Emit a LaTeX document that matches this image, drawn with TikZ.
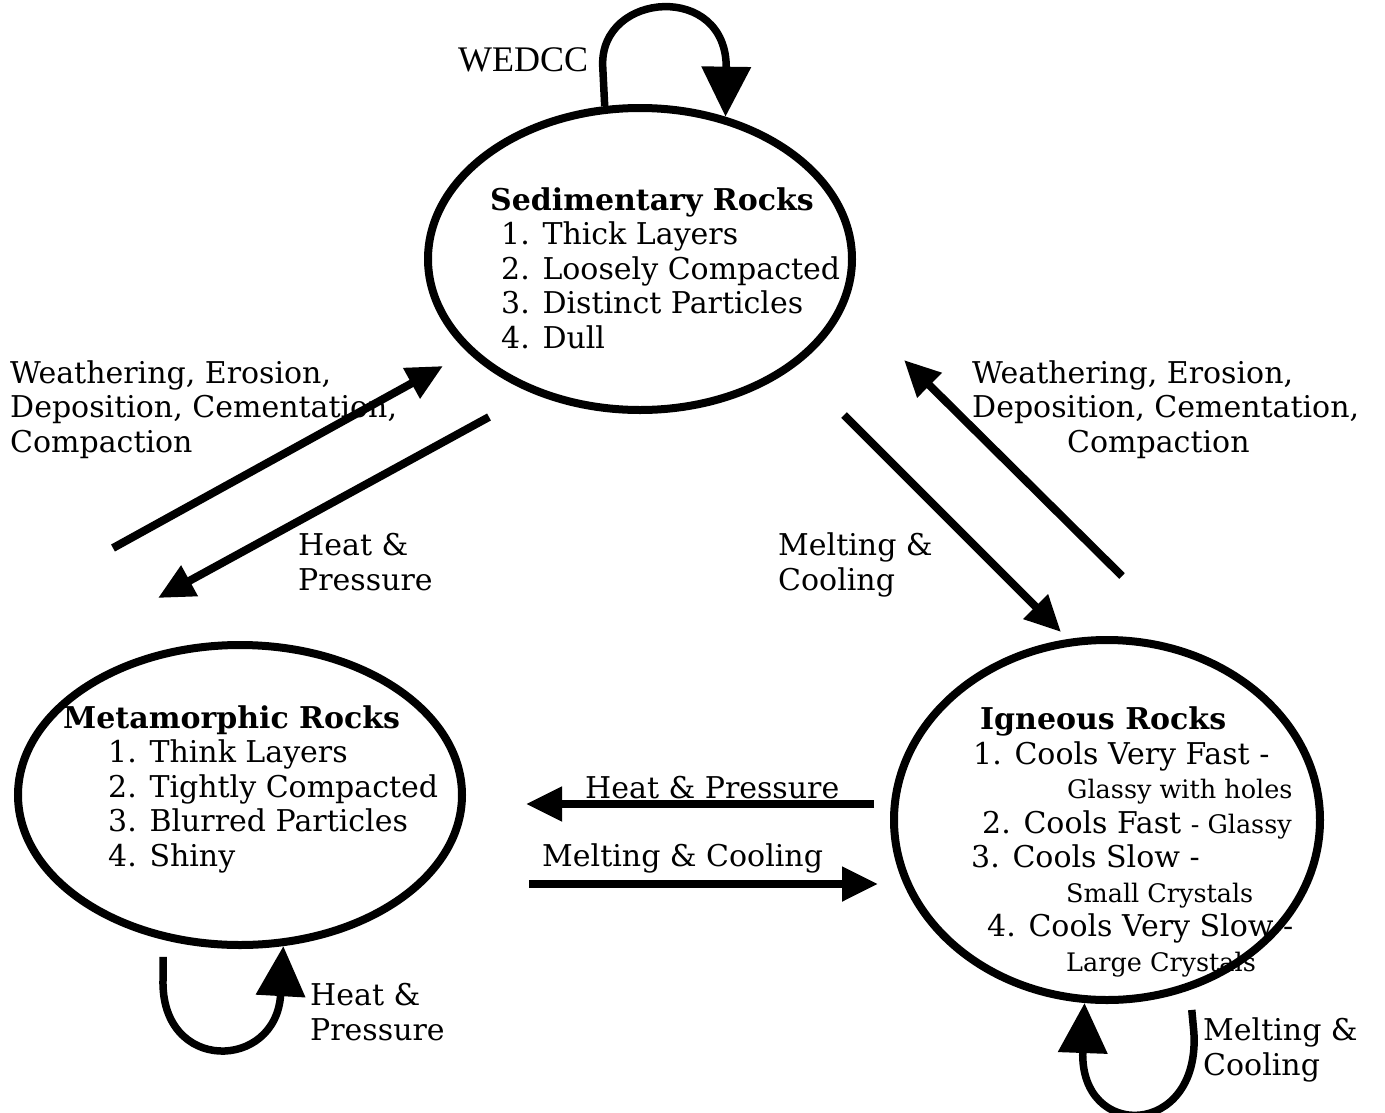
\documentclass[tikz,border=0pt]{standalone}
\usepackage{fontspec}
\setmainfont{DejaVu Serif}
\newfontfamily\timesfont{Liberation Serif}
\usetikzlibrary{shapes.geometric, arrows.meta}

\tikzset{
  rock/.style={ellipse, draw, line width=8pt, inner sep=0pt},
  flow/.style={line width=8pt, -{Triangle[length=36pt,width=33pt]}},
  selfflow/.style={line width=7.5pt, line join=round, -{Triangle[length=50pt,width=48pt]}},
  txt/.style={anchor=base west, inner sep=0pt, align=left, font=\fontsize{30}{34.5}\selectfont},
}
\newcommand{\smtxt}[1]{{\fontsize{25.5}{34.5}\selectfont #1}}

\begin{document}
\begin{tikzpicture}[x=1pt, y=-1pt]
\useasboundingbox (0,0) rectangle (1385,1112);

% the three rocks
\node[rock, minimum width=424pt, minimum height=302pt] (sed) at (640,259) {};
\node[rock, minimum width=444pt, minimum height=300pt] (met) at (240,795) {};
\node[rock, minimum width=426pt, minimum height=360pt] (ign) at (1107,820) {};

% (base of a multi-line node = its last line)
\node[txt] (sedtxt) at (490,348) {\textbf{Sedimentary Rocks}\\
  \hspace*{11pt}1. Thick Layers\\
  \hspace*{11pt}2. Loosely Compacted\\
  \hspace*{11pt}3. Distinct Particles\\
  \hspace*{11pt}4. Dull};
\node[txt] (mettxt) at (63,866) {\textbf{Metamorphic Rocks}\\
  \hspace*{45pt}1. Think Layers\\
  \hspace*{45pt}2. Tightly Compacted\\
  \hspace*{45pt}3. Blurred Particles\\
  \hspace*{45pt}4. Shiny};
\node[txt] (igntxt) at (971,971) {\hspace*{9pt}\textbf{Igneous Rocks}\\
  \hspace*{2pt}1. Cools Very Fast -\\
  \hspace*{96pt}\smtxt{Glassy with holes}\\
  \hspace*{11pt}2. Cools Fast \smtxt{- Glassy}\\
  3. Cools Slow -\\
  \hspace*{95pt}\smtxt{Small Crystals}\\
  \hspace*{16pt}4. Cools Very Slow -\\
  \hspace*{95pt}\smtxt{Large Crystals}};

% process labels
\node[txt] (wecl) at (10,452) {Weathering, Erosion,\\ Deposition, Cementation,\\ Compaction};
\node[txt] (wecr) at (972,452) {Weathering, Erosion,\\ Deposition, Cementation,\\ \hspace*{95pt}Compaction};
\node[txt] (hpa) at (298,590) {Heat \&\\ Pressure};
\node[txt] (mca) at (778,590) {Melting \&\\ Cooling};
\node[txt] (hpb) at (585,798) {Heat \& Pressure};
\node[txt] (mcb) at (542,866) {Melting \& Cooling};
\node[txt] (hpc) at (310,1040) {Heat \&\\ Pressure};
\node[txt] (mcc) at (1203,1075) {Melting \&\\ Cooling};
\node[txt, font=\timesfont\fontsize{36}{40}\selectfont] (wedcc) at (458,71) {WEDCC};

% arrows between rocks
\draw[flow] ([shift={(-127,-93)}]met.north) -- ([shift={(19,107)}]sed.west);
\draw[flow] ([shift={(65,158)}]sed.west) -- ([shift={(-82,-43)}]met.north);
\draw[flow] ([shift={(-12,156)}]sed.east) -- ([shift={(-46,-4)}]ign.north);
\draw[flow] ([shift={(15,-60)}]ign.north) -- ([shift={(48,101)}]sed.east);
\draw[flow] ([shift={(-16,-16)}]ign.west) -- ([shift={(60,9)}]met.east);
\draw[flow] ([shift={(63,89)}]met.east) -- ([shift={(-12,64)}]ign.west);

% self loops
\draw[selfflow] (sed.103) -- ++(-2,-40) .. controls +(-3,-75) and +(2,-135) .. (sed.59);
\draw[selfflow, shorten <=17pt] (met.-118.7) -- ++(0,39) .. controls +(-3,95) and +(-7,125) .. (met.-74);
\draw[selfflow, shorten <=20pt] (ign.-64) -- ++(4,43) .. controls +(6,105) and +(-5,138) .. (ign.-97.6);
\end{tikzpicture}
\end{document}
